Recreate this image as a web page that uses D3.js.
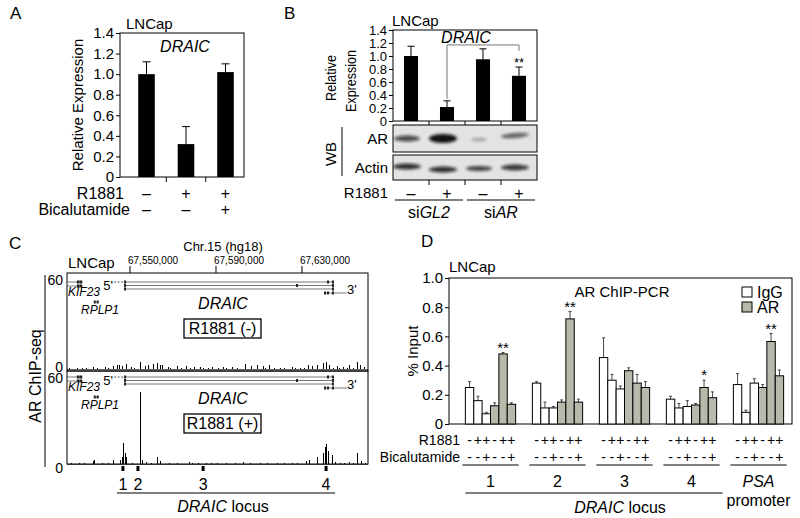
<!DOCTYPE html>
<html><head><meta charset="utf-8">
<script src="https://cdn.jsdelivr.net/npm/d3@7/dist/d3.min.js"></script>
<style>
body{margin:0;background:#fff}
svg{display:block}
text{font-family:"Liberation Sans",Arial,Helvetica,sans-serif;fill:#000}
</style></head><body>
<svg id="fig" width="800" height="518"></svg>
<script>
// ================= DATA =================
// Panel A
const aCats = ["Control", "R1881", "R1881 + Bicalutamide"];
const aValues = [1.00, 0.32, 1.02];
const aErrors = [0.12, 0.17, 0.08];
const aR1881 = ["–", "+", "+"];
const aBicalutamide = ["–", "–", "+"];
const relTicks = [0, 0.2, 0.4, 0.6, 0.8, 1.0, 1.2, 1.4];

// Panel B
const bCats = ["siGL2 -", "siGL2 +", "siAR -", "siAR +"];
const bValues = [1.00, 0.215, 0.95, 0.695];
const bErrors = [0.15, 0.095, 0.16, 0.135];
const bR1881 = ["–", "+", "–", "+"];
const bSiGroups = [["si", "GL2"], ["si", "AR"]];
const wbAR = [0.72, 0.98, 0.25, 0.62];
const wbActin = [0.85, 0.85, 0.78, 0.8];

// Panel C (genomic positions in kb)
const genomicTicks = [67550000, 67590000, 67630000];
const chipRange = [67520.7, 67660.7];
const chipTicks = [0, 60];
const chipMinus = [[67522.0,0.6],[67525.8,1.0],[67528.0,0.6],[67530.0,0.8],[67532.8,1.5],[67535.0,0.7],[67538.4,1.5],[67540.0,0.8],[67542.1,2.0],[67544.0,2.5],[67545.3,3.0],[67546.7,2.0],[67548.6,3.5],[67550.9,1.5],[67552.0,0.8],[67554.7,5.0],[67557.0,2.0],[67558.8,2.5],[67560.7,3.5],[67562.6,4.0],[67564.0,3.0],[67565.3,2.5],[67567.7,1.5],[67569.0,0.8],[67571.9,2.0],[67574.0,0.7],[67576.5,2.0],[67578.0,0.8],[67580.2,1.5],[67582.6,1.5],[67584.0,0.7],[67586.3,1.0],[67588.6,1.5],[67591.0,0.7],[67593.3,1.5],[67595.0,0.6],[67597.9,1.5],[67600.0,0.7],[67603.5,3.5],[67606.7,2.0],[67609.1,2.5],[67611.9,2.0],[67613.0,0.8],[67615.1,3.0],[67617.0,0.8],[67619.8,1.0],[67622.0,0.6],[67625.8,1.5],[67627.0,0.7],[67629.1,1.0],[67631.0,0.8],[67632.8,2.5],[67635.1,2.0],[67637.4,3.0],[67639.8,4.0],[67641.6,4.5],[67643.0,2.5],[67644.5,1.0],[67646.3,2.0],[67647.5,0.8],[67649.1,1.5],[67651.0,0.8],[67652.3,2.5],[67654.0,0.8],[67655.6,5.0],[67657.0,3.0],[67659.3,1.5]];
const chipPlus = [[67523.0,0.5],[67526.7,0.7],[67529.0,0.6],[67532.8,2.0],[67533.7,3.0],[67537.4,1.0],[67540.0,0.7],[67542.1,3.0],[67545.8,3.0],[67546.7,5.0],[67547.2,15.0],[67547.7,8.0],[67548.6,5.0],[67551.0,0.8],[67554.7,50.0],[67555.6,3.0],[67557.9,1.5],[67560.0,0.6],[67562.6,5.0],[67564.0,2.0],[67568.6,1.0],[67572.0,0.6],[67577.9,1.5],[67579.3,1.0],[67582.0,0.6],[67585.8,1.0],[67588.0,0.5],[67590.5,1.0],[67595.1,1.0],[67599.0,0.6],[67602.6,1.5],[67606.0,0.6],[67610.5,1.0],[67614.0,0.5],[67618.4,1.0],[67622.0,0.6],[67625.8,1.0],[67628.0,0.8],[67632.3,2.0],[67633.7,3.0],[67637.0,5.0],[67639.8,8.0],[67640.7,12.0],[67641.6,14.0],[67642.1,9.0],[67644.4,6.0],[67645.5,1.5],[67647.7,1.0],[67650.0,0.7],[67652.3,1.5],[67654.0,0.6],[67656.0,8.0],[67657.9,2.0],[67659.5,0.6]];
const lociPositions = [67546.7, 67553.7, 67584.0, 67641.2];
const lociLabels = ["1", "2", "3", "4"];
const draicIsoforms = [
  {start: 67547.7, end: 67644.4, exons: [67547.7, 67642.1, 67644.4]},
  {start: 67547.7, end: 67644.4, exons: [67547.7, 67627.7, 67644.4]},
  {start: 67547.7, end: 67644.4, exons: [67547.7, 67644.4]},
  {start: 67640.7, end: 67650.9, exons: [67640.7, 67642.1, 67644.4]}
];
const kif23Exons = [67525.9, 67527.2];
const rplp1Exons = [67533.6, 67535.0];
const trackConditions = ["R1881 (-)", "R1881 (+)"];

// Panel D
const dGroups = ["1", "2", "3", "4", "PSA"];
const dIgG = [[0.25,0.16,0.07],[0.28,0.11,0.11],[0.455,0.30,0.24],[0.17,0.11,0.12],[0.27,0.08,0.28]];
const dIgGErr = [[0.04,0.03,0.01],[0.01,0.04,0.01],[0.135,0.04,0.02],[0.02,0.03,0.04],[0.075,0.015,0.03]];
const dAR = [[0.125,0.48,0.135],[0.15,0.72,0.15],[0.365,0.28,0.25],[0.13,0.25,0.18],[0.25,0.565,0.33]];
const dARErr = [[0.02,0.01,0.01],[0.015,0.05,0.02],[0.02,0.06,0.04],[0.01,0.05,0.04],[0.02,0.055,0.04]];
const dR1881 = ["-", "+", "+", "-", "+", "+"];
const dBicalutamide = ["-", "-", "+", "-", "-", "+"];
const dStars = ["**", "**", "", "*", "**"];
const pctTicks = [0, 0.2, 0.4, 0.6, 0.8, 1.0];
const legendItems = ["IgG", "AR"];

// ================= DRAWING =================
const svg = d3.select("#fig");
const fmt1 = d => d === 0 ? "0" : d3.format(".1f")(d);
const GRAY = "#b9b9ab";

function T(parent, x, y, s, size, anchor = "start", extra = {}) {
  const t = parent.append("text").attr("x", x).attr("y", y).attr("font-size", size)
    .attr("text-anchor", anchor).attr("dy", "0.35em").text(s);
  for (const k in extra) t.attr(k, extra[k]);
  return t;
}
function yAxis(parent, scale, ticks, x, size, f, len) {
  const g = parent.append("g").attr("transform", `translate(${x},0)`)
    .call(d3.axisLeft(scale).tickValues(ticks).tickSize(len).tickPadding(2).tickFormat(f));
  g.select(".domain").remove();
  g.attr("font-family", null).attr("font-size", null);
  g.selectAll("line").attr("stroke", "#000");
  g.selectAll("text").attr("font-size", size).attr("fill", "#000");
  return g;
}
const defs = svg.append("defs");
defs.append("filter").attr("id", "blur").attr("x", "-50%").attr("y", "-100%").attr("width", "200%").attr("height", "300%")
  .append("feGaussianBlur").attr("stdDeviation", 1.7);

// panel letters
T(svg, 10, 13, "A", 17); T(svg, 284, 13, "B", 17); T(svg, 9, 243, "C", 17); T(svg, 421, 241, "D", 17);

// ---------- Panel A ----------
{
  const g = svg.append("g");
  const y = d3.scaleLinear().domain([0, 1.4]).range([177, 33]);
  const x = d3.scaleBand().domain(aCats).range([126.75, 245.25]).paddingInner(0.58).paddingOuter(0.29);
  g.append("rect").attr("x", 120).attr("y", 33).attr("width", 124).attr("height", 144)
    .attr("fill", "none").attr("stroke", "#000");
  yAxis(g, y, relTicks, 120, 15, fmt1, 4);
  g.selectAll(".bar").data(aCats).join("rect").attr("x", d => x(d)).attr("width", x.bandwidth())
    .attr("y", (d, i) => y(aValues[i])).attr("height", (d, i) => y(0) - y(aValues[i])).attr("fill", "#000");
  aCats.forEach((c, i) => {
    const cx = x(c) + x.bandwidth() / 2;
    g.append("line").attr("x1", cx).attr("x2", cx).attr("y1", y(aValues[i])).attr("y2", y(aValues[i] + aErrors[i])).attr("stroke", "#000");
    g.append("line").attr("x1", cx - 4).attr("x2", cx + 4).attr("y1", y(aValues[i] + aErrors[i])).attr("y2", y(aValues[i] + aErrors[i])).attr("stroke", "#000");
    if (i > 0) {
      const tx = x(c) - (x.step() - x.bandwidth()) / 2;
      g.append("line").attr("x1", tx).attr("x2", tx).attr("y1", 177).attr("y2", 182).attr("stroke", "#000");
    }
    T(g, cx, 193, aR1881[i], 16, "middle");
    T(g, cx, 209, aBicalutamide[i], 16, "middle");
  });
  T(g, 124, 193, "R1881", 16, "end");
  T(g, 130, 209, "Bicalutamide", 16, "end");
  T(g, 126, 24, "LNCap", 15);
  T(g, 185, 46, "DRAIC", 16, "middle", {"font-style": "italic"});
  g.append("text").attr("transform", "translate(78,105) rotate(-90)").attr("text-anchor", "middle")
    .attr("dy", "0.35em").attr("font-size", 15).text("Relative Expression");
}

// ---------- Panel B ----------
{
  const g = svg.append("g");
  const y = d3.scaleLinear().domain([0, 1.4]).range([121, 30]);
  const x = d3.scaleBand().domain(bCats).range([393, 537]).paddingInner(0.61).paddingOuter(0.305);
  g.append("rect").attr("x", 393).attr("y", 30).attr("width", 144).attr("height", 91)
    .attr("fill", "none").attr("stroke", "#000");
  yAxis(g, y, relTicks, 393, 13, fmt1, 4);
  const cx = (c) => x(c) + x.bandwidth() / 2;
  g.selectAll(".bar").data(bCats).join("rect").attr("x", d => x(d)).attr("width", x.bandwidth())
    .attr("y", (d, i) => y(bValues[i])).attr("height", (d, i) => y(0) - y(bValues[i])).attr("fill", "#000");
  bCats.forEach((c, i) => {
    const top = y(bValues[i] + bErrors[i]);
    g.append("line").attr("x1", cx(c)).attr("x2", cx(c)).attr("y1", y(bValues[i])).attr("y2", top).attr("stroke", "#000");
    g.append("line").attr("x1", cx(c) - 3.5).attr("x2", cx(c) + 3.5).attr("y1", top).attr("y2", top).attr("stroke", "#000");
    T(g, cx(c), 193, bR1881[i], 16, "middle");
    if (i > 0) {
      const tx = x(c) - (x.step() - x.bandwidth()) / 2;
      [[121, 125], [180, 185]].forEach(([a, b]) =>
        g.append("line").attr("x1", tx).attr("x2", tx).attr("y1", a).attr("y2", b).attr("stroke", "#000"));
    }
  });
  // bracket
  const bl = cx(bCats[1]), br = cx(bCats[3]);
  g.append("path").attr("d", `M${bl},${y(bValues[1] + bErrors[1]) - 2}V${y(1.17)}H${br}V${y(1.08)}`)
    .attr("fill", "none").attr("stroke", "#777");
  T(g, br, y(bValues[3] + bErrors[3]) - 5, "**", 13, "middle", {fill: "#666"});
  T(g, 466, 37, "DRAIC", 16, "middle", {"font-style": "italic"});
  T(g, 392, 21, "LNCap", 15);
  g.append("text").attr("transform", "translate(331,78) rotate(-90)").attr("text-anchor", "middle")
    .attr("dy", "0.35em").attr("font-size", 15).attr("textLength", 46).attr("lengthAdjust", "spacingAndGlyphs").text("Relative");
  g.append("text").attr("transform", "translate(351,81) rotate(-90)").attr("text-anchor", "middle")
    .attr("dy", "0.35em").attr("font-size", 15).attr("textLength", 62).attr("lengthAdjust", "spacingAndGlyphs").text("Expression");
  // WB
  const boxes = [{y0: 125, y1: 152, label: "AR", vals: wbAR, h: [6, 9, 4, 5], w: [26, 28, 16, 28], dy: [0, 0, 1, -3], rot: [0, 0, 0, -5]},
                 {y0: 155, y1: 180, label: "Actin", vals: wbActin, h: [6, 6, 5, 6], w: [28, 28, 26, 28], dy: [-1, 2, 1, 0], rot: [0, 0, 0, 0]}];
  boxes.forEach((b, bi) => {
    const clipId = "clip" + bi;
    defs.append("clipPath").attr("id", clipId).append("rect").attr("x", 393).attr("y", b.y0).attr("width", 144).attr("height", b.y1 - b.y0);
    g.append("rect").attr("x", 393).attr("y", b.y0).attr("width", 144).attr("height", b.y1 - b.y0).attr("fill", "#e3e3e3");
    const bg = g.append("g").attr("clip-path", `url(#${clipId})`).attr("filter", "url(#blur)");
    const ym = (b.y0 + b.y1) / 2;
    bCats.forEach((c, i) => {
      const lx = cx(c) - 4;
      bg.append("ellipse").attr("cx", lx).attr("cy", ym + b.dy[i]).attr("rx", b.w[i] / 2).attr("ry", b.h[i] / 2)
        .attr("fill", "#111").attr("opacity", b.vals[i])
        .attr("transform", `rotate(${b.rot[i]},${lx},${ym + b.dy[i]})`);
    });
    g.append("rect").attr("x", 393).attr("y", b.y0).attr("width", 144).attr("height", b.y1 - b.y0)
      .attr("fill", "none").attr("stroke", "#000");
    T(g, 388, ym, b.label, 15, "end");
  });
  T(g, 388, 193, "R1881", 15, "end");
  g.append("text").attr("transform", "translate(331,154) rotate(-90)").attr("text-anchor", "middle")
    .attr("dy", "0.35em").attr("font-size", 15).text("WB");
  g.append("line").attr("x1", 342).attr("x2", 342).attr("y1", 127).attr("y2", 176).attr("stroke", "#000");
  [[0, 1], [2, 3]].forEach((pair, k) => {
    const x0 = x(bCats[pair[0]]) - 9, x1 = x(bCats[pair[1]]) + x.bandwidth() + 9;
    g.append("line").attr("x1", x0).attr("x2", x1).attr("y1", 200).attr("y2", 200).attr("stroke", "#000");
    const t = T(g, (x0 + x1) / 2, 212, "", 16, "middle");
    t.append("tspan").text(bSiGroups[k][0]);
    t.append("tspan").attr("font-style", "italic").text(bSiGroups[k][1]);
  });
}

// ---------- Panel C ----------
{
  const g = svg.append("g");
  const x = d3.scaleLinear().domain(chipRange).range([67, 368]);
  T(g, 223, 246, "Chr.15 (hg18)", 13, "middle");
  T(g, 68, 263, "LNCap", 15);
  genomicTicks.forEach(t => {
    const tx = x(t / 1000);
    g.append("line").attr("x1", tx).attr("x2", tx).attr("y1", 266).attr("y2", 273).attr("stroke", "#000");
    T(g, tx - 2, 260, d3.format(",")(t), 10, "start");
  });
  const tracks = [
    {y0: 369, y60: 280, top: 273, bot: 371, data: chipMinus, ab: 282},
    {y0: 464, y60: 378, top: 371, bot: 464, data: chipPlus, ab: 377}
  ];
  tracks.forEach((tr, ti) => {
    const y = d3.scaleLinear().domain([0, 60]).range([tr.y0, tr.y60]);
    g.append("rect").attr("x", 67).attr("y", tr.top).attr("width", 301).attr("height", tr.bot - tr.top)
      .attr("fill", "none").attr("stroke", "#000");
    const ax = yAxis(g, y, chipTicks, 65, 14, d => d, 0);
    if (ti === 0) ax.selectAll("text").filter(d => d === 0).attr("y", -2);
    if (ti === 1) ax.selectAll("text").filter(d => d === 0).attr("y", 4);
    g.append("g").selectAll("line").data(tr.data).join("line")
      .attr("x1", d => x(d[0])).attr("x2", d => x(d[0])).attr("y1", y(0)).attr("y2", d => y(d[1]))
      .attr("stroke", "#000").attr("stroke-width", 1).attr("shape-rendering", "crispEdges");
    g.append("line").attr("x1", 67).attr("x2", 368).attr("y1", y(0) + 0.5).attr("y2", y(0) + 0.5).attr("stroke", "#000").attr("stroke-width", 0.6);
    // annotations
    const ab = tr.ab;
    const offs = [0, 3.5, 7, 11];
    draicIsoforms.forEach((iso, k) => {
      const yy = ab + offs[k];
      g.append("line").attr("x1", x(iso.start)).attr("x2", x(iso.end)).attr("y1", yy).attr("y2", yy).attr("stroke", "#555").attr("stroke-width", 0.8);
      iso.exons.forEach(e => g.append("rect").attr("x", x(e) - 1).attr("y", yy - 1.5).attr("width", 2).attr("height", 3).attr("fill", "#222"));
    });
    g.append("line").attr("x1", x(67542.6)).attr("x2", x(67547.7)).attr("y1", ab).attr("y2", ab)
      .attr("stroke", "#555").attr("stroke-dasharray", "2,1.5");
    T(g, 113, ab + 3, "5'", 13, "end", {fill: "#222"});
    T(g, 347, ab + 7, "3'", 13, "start", {fill: "#222"});
    [0, 4].forEach(o => {
      g.append("line").attr("x1", 67).attr("x2", x(kif23Exons[1])).attr("y1", ab + o).attr("y2", ab + o).attr("stroke", "#555").attr("stroke-width", 0.8);
      kif23Exons.forEach(e => g.append("rect").attr("x", x(e) - 1.3).attr("y", ab + o - 1.5).attr("width", 2.6).attr("height", 3).attr("fill", "#222"));
    });
    T(g, 68, ab + 10, "KIF23", 12, "start", {"font-style": "italic", fill: "#333"});
    g.append("line").attr("x1", x(rplp1Exons[0])).attr("x2", x(rplp1Exons[1])).attr("y1", ab + 20).attr("y2", ab + 20).attr("stroke", "#555");
    rplp1Exons.forEach(e => g.append("rect").attr("x", x(e) - 1).attr("y", ab + 18.5).attr("width", 2).attr("height", 3).attr("fill", "#222"));
    T(g, 81, ab + 28, "RPLP1", 12, "start", {"font-style": "italic", fill: "#333"});
    T(g, 223, ab + 21, "DRAIC", 16, "middle", {"font-style": "italic"});
    g.append("rect").attr("x", 184).attr("y", ab + 37).attr("width", 77).attr("height", 19)
      .attr("fill", "#fff").attr("stroke", "#000").attr("stroke-width", 1.3);
    T(g, 222.5, ab + 46.5, trackConditions[ti], 16, "middle");
  });
  lociPositions.forEach((p, i) => {
    g.append("rect").attr("x", x(p) - 1.5).attr("y", 466).attr("width", 3).attr("height", 5).attr("fill", "#000");
    T(g, x(p), 484, lociLabels[i], 16, "middle");
  });
  g.append("line").attr("x1", x(lociPositions[0]) - 6).attr("x2", x(lociPositions[3]) + 9).attr("y1", 493).attr("y2", 493).attr("stroke", "#000");
  const lt = T(g, 223, 506, "", 16, "middle");
  lt.append("tspan").attr("font-style", "italic").text("DRAIC");
  lt.append("tspan").text(" locus");
  g.append("text").attr("transform", "translate(35,376) rotate(-90)").attr("text-anchor", "middle")
    .attr("dy", "0.35em").attr("font-size", 16).text("AR ChIP-seq");
  g.append("line").attr("x1", 45).attr("x2", 45).attr("y1", 275).attr("y2", 467).attr("stroke", "#000");
}

// ---------- Panel D ----------
{
  const g = svg.append("g");
  const y = d3.scaleLinear().domain([0, 1]).range([424, 278]);
  const gx = d3.scaleBand().domain(dGroups).range([457, 792]).paddingInner(0.25).paddingOuter(0.125);
  const bx = d3.scaleBand().domain(d3.range(6)).range([0, gx.bandwidth()]);
  g.append("rect").attr("x", 449).attr("y", 278).attr("width", 343).attr("height", 146)
    .attr("fill", "none").attr("stroke", "#000");
  yAxis(g, y, pctTicks, 449, 15, fmt1, 4);
  dGroups.forEach((grp, gi) => {
    const vals = dIgG[gi].concat(dAR[gi]);
    const errs = dIgGErr[gi].concat(dARErr[gi]);
    const gg = g.append("g").attr("transform", `translate(${gx(grp)},0)`);
    vals.forEach((v, i) => {
      const x0 = bx(i), w = bx.bandwidth(), c = x0 + w / 2;
      const top = y(v + errs[i]);
      gg.append("line").attr("x1", c).attr("x2", c).attr("y1", y(v)).attr("y2", top).attr("stroke", "#333").attr("stroke-width", 0.9);
      gg.append("line").attr("x1", c - 1.5).attr("x2", c + 1.5).attr("y1", top).attr("y2", top).attr("stroke", "#333").attr("stroke-width", 0.9);
      gg.append("rect").attr("x", x0).attr("y", y(v)).attr("width", w).attr("height", y(0) - y(v))
        .attr("fill", i < 3 ? "#fff" : GRAY).attr("stroke", "#000").attr("stroke-width", 1);
      T(gg, c, 440, dR1881[i], 14, "middle");
      T(gg, c, 457, dBicalutamide[i], 14, "middle");
    });
    if (dStars[gi]) {
      const c = bx(4) + bx.bandwidth() / 2;
      T(gg, c, y(dAR[gi][1] + dARErr[gi][1]) - 5, dStars[gi], 15, "middle", {fill: "#555"});
    }
    gg.append("line").attr("x1", -3).attr("x2", gx.bandwidth() + 3).attr("y1", 465).attr("y2", 465).attr("stroke", "#000");
    if (grp === "PSA") {
      T(gg, gx.bandwidth() / 2, 481, "PSA", 16, "middle", {"font-style": "italic"});
      T(gg, gx.bandwidth() / 2, 500, "promoter", 16, "middle");
    } else {
      T(gg, gx.bandwidth() / 2, 481, grp, 16, "middle");
    }
  });
  g.append("line").attr("x1", gx("1")).attr("x2", gx("4") + gx.bandwidth() + 6).attr("y1", 493).attr("y2", 493).attr("stroke", "#000");
  const lt = T(g, 620, 507, "", 16, "middle");
  lt.append("tspan").attr("font-style", "italic").text("DRAIC");
  lt.append("tspan").text(" locus");
  T(g, 460, 440, "R1881", 14, "end");
  T(g, 460, 457, "Bicalutamide", 14, "end");
  T(g, 449, 267, "LNCap", 15);
  T(g, 622, 292, "AR ChIP-PCR", 15, "middle");
  legendItems.forEach((l, i) => {
    g.append("rect").attr("x", 742).attr("y", 287 + i * 15).attr("width", 10).attr("height", 10)
      .attr("fill", i === 0 ? "#fff" : GRAY).attr("stroke", "#000");
    T(g, 757, 292 + i * 15, l, 16);
  });
  g.append("text").attr("transform", "translate(413,351) rotate(-90)").attr("text-anchor", "middle")
    .attr("dy", "0.35em").attr("font-size", 15).text("% Input");
}
</script>
</body></html>
